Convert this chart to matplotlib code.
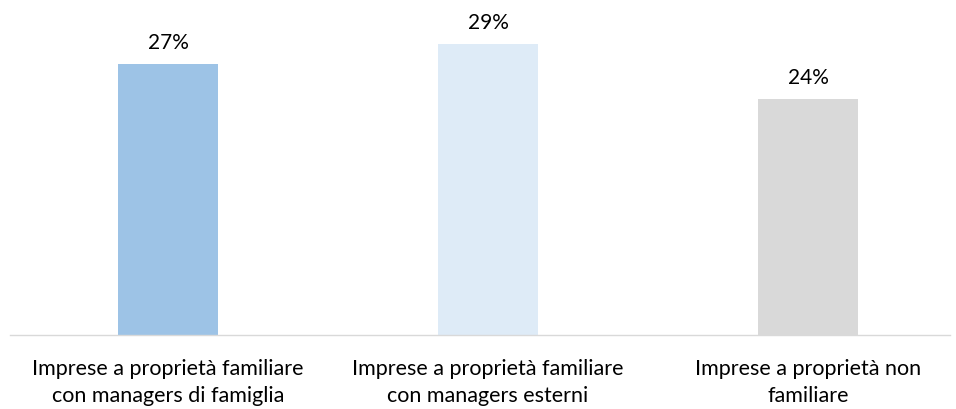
import matplotlib.pyplot as plt

categories = ['Imprese a proprietà familiare\ncon managers di famiglia',
              'Imprese a proprietà familiare\ncon managers esterni',
              'Imprese a proprietà non\nfamiliare']
values = [27.1, 29.1, 23.6]
colors = ['#9DC3E6', '#DEEBF7', '#D9D9D9']

plt.rcParams['font.family'] = ['Lato', 'DejaVu Sans']

fig = plt.figure(figsize=(9.56, 4.09), dpi=100)
ax = fig.add_axes([10 / 956, (409 - 335) / 409, 940 / 956, 325 / 409])

x = range(len(categories))
bars = ax.bar(x, values, width=0.3125, color=colors)
for b, v in zip(bars, values):
    ax.text(b.get_x() + b.get_width() / 2, v + 1.1, f'{v:.0f}%',
            ha='center', va='bottom', fontsize=15, color='#000000')

ax.set_xlim(-0.494, 2.444)
ax.set_ylim(0, 32.5)
ax.set_xticks(list(x))
ax.set_xticklabels(categories, fontsize=15.5, linespacing=1.45)
ax.tick_params(axis='x', length=0, pad=17)
ax.set_yticks([])
for s in ['top', 'right', 'left']:
    ax.spines[s].set_visible(False)
ax.spines['bottom'].set_color('#D9D9D9')
ax.spines['bottom'].set_linewidth(1)

fig.savefig('out.png', dpi=100)
